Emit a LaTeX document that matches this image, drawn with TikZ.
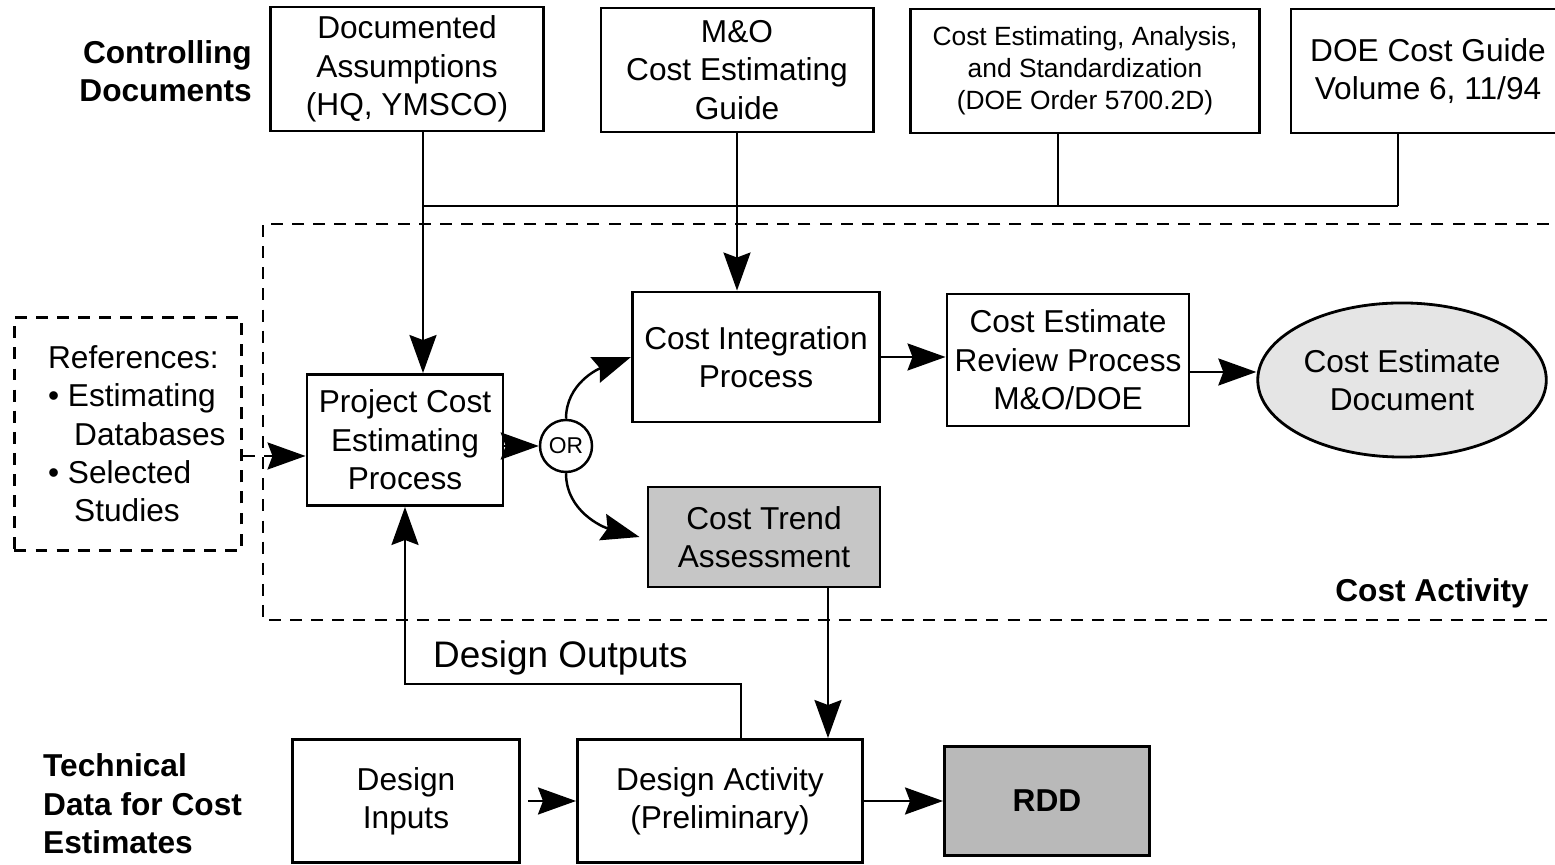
\documentclass[tikz,border=0pt]{standalone}
\usepackage{fontspec}
\setmainfont{Liberation Sans}
\usetikzlibrary{arrows.meta, shapes.geometric}

\begin{document}
\begin{tikzpicture}[x=0.01cm, y=-0.01cm, line width=0.7pt,
        box/.style={draw, line width=0.8pt, align=center, inner sep=1pt, font=\fontsize{9}{10.9}\selectfont},
        arr/.style={-{Stealth[length=3.8mm, width=2.7mm, inset=0.5mm]}},
        dashbox/.style={dash pattern=on 3.4pt off 2.6pt},
        lbl/.style={inner sep=0pt, font=\bfseries\fontsize{9}{10.9}\selectfont}]

        % Frame of the figure
        \clip (0,0) rectangle (1555,865);

        % Controlling documents
        \node[lbl, anchor=east, align=right] (ctrl) at (253,71) {Controlling\\Documents};
        \node[box, minimum width=2.73cm, minimum height=1.24cm] (doc) at (407,69) {Documented\\Assumptions\\(HQ, YMSCO)};
        \node[box, minimum width=2.72cm, minimum height=1.24cm] (mo) at (737,70) {M\&O\\Cost Estimating\\Guide};
        \node[box, minimum width=3.49cm, minimum height=1.24cm, font=\fontsize{7.5}{9.1}\selectfont] (ceas) at (1085,71) {Cost Estimating, Analysis,\\and Standardization\\(DOE Order 5700.2D)};
        \node[box, minimum width=2.74cm, minimum height=1.24cm] (doe) at (1428,71) {DOE Cost Guide\\Volume 6, 11/94};

        % Cost activity region
        \draw[dashbox] (1570,224) -- (263,224) -- (263,620) -- (1570,620);
        \node[lbl, anchor=east] (costact) at (1530,593) {Cost Activity};

        % Process boxes
        \node[box, dashbox, minimum width=2.27cm, minimum height=2.33cm, align=left] (refs) at (128,434) {\hspace*{5pt}References:\\\hspace*{5pt}\textbullet\ Estimating\\\hspace*{12.4pt}Databases\\\hspace*{5pt}\textbullet\ Selected\\\hspace*{12.4pt}Studies};
        \node[box, minimum width=1.96cm, minimum height=1.31cm] (pce) at (405,440) {Project Cost\\Estimating\\Process};
        \node[draw, circle, minimum size=0.52cm, inner sep=0pt, font=\fontsize{6.5}{7}\selectfont] (or) at (566,446) {OR};
        \node[box, minimum width=2.47cm, minimum height=1.30cm] (cip) at (756,357) {Cost Integration\\Process};
        \node[box, fill=gray!45, minimum width=2.32cm, minimum height=1.0cm] (ctr) at (764,537) {Cost Trend\\Assessment};
        \node[box, minimum width=2.42cm, minimum height=1.32cm] (cerp) at (1068,360) {Cost Estimate\\Review Process\\M\&O/DOE};
        \node[box, ellipse, fill=gray!20, minimum width=2.8cm, minimum height=1.54cm] (ced) at (1402,380) {Cost Estimate\\Document};

        % Technical data
        \node[lbl, anchor=west, align=left] (tech) at (42,804) {Technical\\Data for Cost\\Estimates};
        \node[box, minimum width=2.27cm, minimum height=1.23cm] (di) at (406,801) {Design\\Inputs};
        \node[box, minimum width=2.85cm, minimum height=1.23cm] (da) at (720,801) {Design Activity\\(Preliminary)};
        \node[box, fill=gray!55, minimum width=2.05cm, minimum height=1.09cm, font=\bfseries\fontsize{9}{10.9}\selectfont] (rdd) at (1047,801) {RDD};
        \node[inner sep=0pt, font=\fontsize{10.5}{12}\selectfont, anchor=west] (dolbl) at (432,658) {Design Outputs};

        % Bus from the controlling documents
        \coordinate (busL) at (423,206);
        \coordinate (busC) at (1058,206);
        \coordinate (busR) at (1398,206);
        \draw[arr] (busL |- doc.south) -- (busL |- pce.north);
        \draw (busL) -- (busR);
        \draw (busC |- ceas.south) -- (busC);
        \draw (busR |- doe.south) -- (busR);
        \draw[arr] (mo.south) -- (mo.south |- cip.north);

        % References into the process
        \coordinate (refin) at (0,456);
        \draw[arr, dashbox] (refs.east |- refin) -- (pce.west |- refin);

        % OR branch
        \draw[arr] (pce.east |- or) -- (or.west);
        \draw[arr] (or.north) to[out=90, in=200] (cip.west);
        \draw[arr] (or.south) to[out=-90, in=165] ([xshift=-2pt]ctr.west);
        \draw[arr] (cip.east) -- (cip.east -| cerp.west);
        \coordinate (docin) at (0,372);
        \draw[arr] (cerp.east |- docin) -- (ced.west |- docin);

        % Trend down to design
        \coordinate (trd) at (828,0);
        \draw[arr] (trd |- ctr.south) -- (trd |- da.north);

        % Design outputs loop
        \coordinate (dout) at (741,684);
        \draw[arr] (dout |- da.north) -- (dout) -| (pce.south);

        % Design chain
        \draw[arr, shorten <=0.07cm] (di.east) -- (da.west);
        \draw[arr] (da.east) -- (rdd.west);

\end{tikzpicture}
\end{document}
